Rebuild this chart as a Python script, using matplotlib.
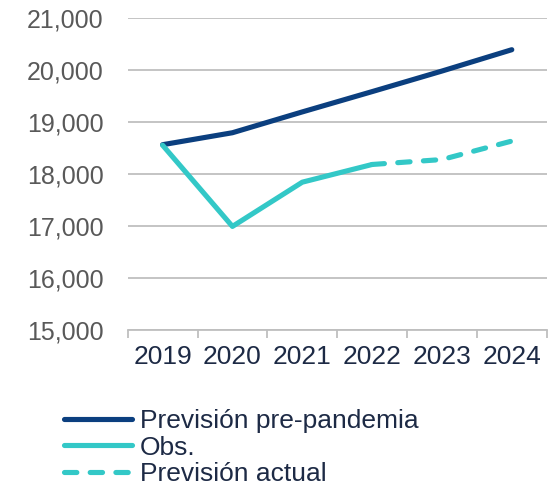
import matplotlib
matplotlib.use("Agg")
import matplotlib.pyplot as plt
from matplotlib.lines import Line2D

years = ["2019", "2020", "2021", "2022", "2023", "2024"]
pre_pandemia = [18560, 18790, 19190, 19580, 19975, 20385]
obs = [18550, 16990, 17840, 18180]
actual_years = ["2022", "2023", "2024"]
actual = [18180, 18275, 18630]
yticks = [15000, 16000, 17000, 18000, 19000, 20000, 21000]

plt.rcParams['font.family'] = ['Liberation Sans', 'DejaVu Sans']

navy = "#0b3f7f"
teal = "#33c8c7"

fig = plt.figure(figsize=(5.51, 4.86), dpi=100)
ax = fig.add_axes([127.7/551, 1-330/486, (546.7-127.7)/551, (330-17.7)/486])

x = list(range(len(years)))
xa = [years.index(y) for y in actual_years]
lw = 3.7
dash = (2.4, 2.6)
ax.plot(x, pre_pandemia, color=navy, lw=lw, solid_capstyle='round', solid_joinstyle='round', zorder=3)
ax.plot(x[:len(obs)], obs, color=teal, lw=lw, solid_capstyle='round', solid_joinstyle='round', zorder=3)
ax.plot(xa, actual, color=teal, lw=lw, dashes=dash, dash_capstyle='round', zorder=3)

ax.set_xlim(-0.5, len(years) - 0.5)
ax.set_ylim(15000, 21000)
ax.set_yticks(yticks)
ax.set_yticklabels([f"{v:,}" for v in yticks])
ax.set_xticks(x)
ax.set_xticklabels(years)
ax.set_xticks([i - 0.5 for i in range(len(years) + 1)], minor=True)

ax.grid(axis='y', color='#bfbfbf', lw=1.3, zorder=0)
ax.set_axisbelow(True)
for s in ['top', 'right', 'left']:
    ax.spines[s].set_visible(False)
ax.spines['bottom'].set_color('#bfbfbf')
ax.spines['bottom'].set_linewidth(1.3)

ax.tick_params(axis='y', length=0, pad=17.5, labelsize=18, labelcolor='#595959')
ax.tick_params(axis='x', which='major', length=0, pad=11, labelsize=19, labelcolor='#1d2a45')
ax.tick_params(axis='x', which='minor', length=6, width=1.3, color='#bfbfbf', direction='out')

handles = [
    Line2D([], [], color=navy, lw=lw, solid_capstyle='round'),
    Line2D([], [], color=teal, lw=lw, solid_capstyle='round'),
    Line2D([], [], color=teal, lw=lw, dashes=dash, dash_capstyle='round'),
]
labels = ["Previsión pre-pandemia", "Obs.", "Previsión actual"]
leg = fig.legend(handles, labels, loc='upper left', bbox_to_anchor=(64.3/551, 1-409/486),
                 frameon=False, fontsize=19, handlelength=2.55, handletextpad=0.32,
                 labelspacing=0.1, borderpad=0, borderaxespad=0)
for t in leg.get_texts():
    t.set_color('#1d2a45')

fig.savefig("out.png", dpi=100)
